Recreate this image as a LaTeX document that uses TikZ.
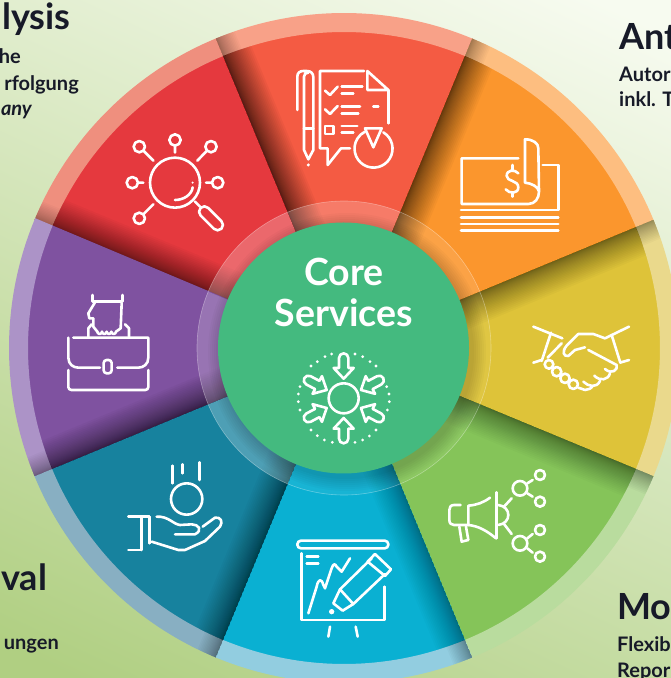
\documentclass[tikz,border=0pt]{standalone}
\usepackage{fontspec}
\setmainfont{Lato}
\definecolor{wRed}{HTML}{E5393E}\definecolor{rRed}{HTML}{EF8F7E}
\definecolor{wTop}{HTML}{F45B43}\definecolor{rTop}{HTML}{F8A188}
\definecolor{wOra}{HTML}{FB962D}\definecolor{rOra}{HTML}{FDBE80}
\definecolor{wYel}{HTML}{DEC339}\definecolor{rYel}{HTML}{EAD98C}
\definecolor{wGre}{HTML}{85C459}\definecolor{rGre}{HTML}{B9DC9E}
\definecolor{wBlu}{HTML}{0AB0D2}\definecolor{rBlu}{HTML}{92CDE0}
\definecolor{wTea}{HTML}{17829E}\definecolor{rTea}{HTML}{88AFC2}
\definecolor{wPur}{HTML}{7F52A0}\definecolor{rPur}{HTML}{AC93C7}
\definecolor{coreGreen}{HTML}{44BA7F}
\definecolor{ink}{HTML}{171A28}
\definecolor{bgTop}{HTML}{F7FBF0}
\definecolor{bgBot}{HTML}{B0CF82}
\def\sect#1#2#3#4{(#3:#1) arc[start angle=#3,end angle=#4,radius=#1] -- (#4:#2) arc[start angle=#4,end angle=#3,radius=#2] -- cycle}
\newcommand\corearrow[3]{\begin{scope}[shift={(#1,#2)},rotate=#3]
  \draw[icon] (0,0) -- (-32,-30) -- (-32,-14) -- (-62,-14) arc[start angle=-90,end angle=-270,radius=14] -- (-32,14) -- (-32,30) -- cycle;
\end{scope}}
\tikzset{
  icon/.style={draw=white,line width=2.6pt,line cap=round,line join=round},
  head/.style={anchor=base west,text=ink,font=\fontsize{36}{36}\selectfont\bfseries,inner sep=0},
  body/.style={anchor=base west,text=ink,font=\fontsize{20}{20}\selectfont\bfseries,inner sep=0},
  bodyr/.style={anchor=base east,text=ink,font=\fontsize{20}{20}\selectfont\bfseries,inner sep=0},
  corelabel/.style={text=white,font=\fontsize{37.5}{37.5}\selectfont\bfseries,inner sep=0,anchor=base},
}
\begin{document}
\begin{tikzpicture}[x=1pt,y=1pt]
\useasboundingbox (0,0) rectangle (671,678);
\clip (0,0) rectangle (671,678);
\shade[top color=bgTop,bottom color=bgBot,shading angle=-25] (-80,-80) rectangle (751,758);
\begin{scope}[shift={(0,678)},yscale=-1]
% ---------- wheel ----------
\begin{scope}[shift={(344,348)}]
\foreach \s/\wc/\rc/\iop/\sop in {-157.5/wRed/rRed/.24/.026,-112.5/wTop/rTop/.2/.034,-67.5/wOra/rOra/.12/.03,-22.5/wYel/rYel/.05/.024,22.5/wGre/rGre/.06/.02,67.5/wBlu/rBlu/.06/.015,112.5/wTea/rTea/.24/.024,157.5/wPur/rPur/.2/.026}{
  \pgfmathsetmacro\e{\s+45}
  \pgfmathsetmacro\ee{\s+45.3}
  \fill[\wc] (0,0) -- (\s:316.5) arc[start angle=\s,end angle=\ee,radius=316.5] -- cycle;
  \fill[\rc] \sect{316}{335}{\s}{\ee};
  \begin{scope}
    \clip (0,0) -- (\s:316) arc[start angle=\s,end angle=\e,radius=316] -- cycle;
    \begin{scope}[rotate=\s]
      \foreach \i in {1,...,28}{
        \pgfmathsetmacro\w{30*(\i/28)^1.8}
        \fill[black,opacity=\sop] (0,0) rectangle (345,\w);
      }
    \end{scope}
  \end{scope}
  \begin{scope}
    \clip \sect{316}{335}{\s}{\e};
    \begin{scope}[rotate=\s]
      \foreach \i in {1,...,18}{
        \pgfmathsetmacro\w{20*(\i/18)^1.5}
        \fill[black,opacity=.025] (0,0) rectangle (345,\w);
      }
    \end{scope}
  \end{scope}
  \fill[white,opacity=\iop] \sect{125}{147}{\s}{\e};
}
\draw[white,opacity=.35,line width=.6pt] (0,0) circle[radius=147];
\foreach \r in {127,129,...,139}{
  \fill[black,opacity=.022] (3,4) circle[radius=\r];
}
\end{scope}
\node[circle,fill=coreGreen,minimum size=251pt,inner sep=0] (core) at (343.5,348) {};
\node[corelabel] (coreA) at (344,285.5) {Core};
\node[corelabel] (coreB) at (344,327) {Services};
% ---------- core icon ----------
\begin{scope}[shift={(190,210)},scale=1/3]
  \draw[icon] (461,565) circle[radius=45];
  \corearrow{461}{506}{90}
  \corearrow{461}{624}{-90}
  \corearrow{410}{540}{28}
  \corearrow{513}{540}{152}
  \corearrow{410}{594}{-28}
  \corearrow{513}{594}{208}
  \foreach \x/\y in {405/440,425/432,495/432,518/440,540/455,558/468,590/530,597/552,598/575,592/600,558/660,538/678,518/690,495/697,427/697,403/690,382/677,363/660,330/600,325/575,325/552,330/530,363/468,382/455}{
    \fill[white] (\x,\y) circle[radius=4.6];
  }
\end{scope}
% ---------- magnifier ----------
\begin{scope}[shift={(0,0)},scale=1/3]
  \draw[icon] (525,548) circle[radius=75];
  \draw[icon] (525,600) .. controls (550,600) and (575,585) .. (578,562);
  \fill[white] (578,548) circle[radius=3.5];
  \draw[icon] (585,605) -- (600,620);
  \begin{scope}[shift={(633,655)},rotate=45]
    \draw[icon,rounded corners=5.2pt] (-44,-16) rectangle (44,16);
  \end{scope}
  \draw[icon] (525,420) circle[radius=17] (525,437) -- (525,458);
  \draw[icon] (418,440) circle[radius=17] (431,453) -- (460,482);
  \draw[icon] (633,440) circle[radius=17] (620,453) -- (592,482);
  \draw[icon] (397,548) circle[radius=17] (414,548) -- (430,548);
  \draw[icon] (653,548) circle[radius=17] (636,548) -- (618,548);
  \draw[icon] (418,655) circle[radius=17] (431,642) -- (460,613);
\end{scope}
% ---------- report ----------
\begin{scope}[shift={(285,60)},scale=1/3]
  \draw[icon] (37,150) -- (37,50) .. controls (37,38) and (45,33) .. (55,33) -- (65,33) .. controls (78,33) and (85,40) .. (85,52) -- (85,270) -- (70,298) -- (57,270) -- (57,50) .. controls (57,42) and (62,38) .. (70,38);
  \draw[icon] (57,205) -- (85,205);
  \fill[white] (70,315) circle[radius=5];
  \draw[icon] (237,33) -- (105,33) -- (105,265) -- (128,265) -- (128,315) -- (168,265) -- (195,265);
  \draw[icon] (247,33) -- (247,90) -- (310,90) -- cycle;
  \draw[icon] (310,90) -- (310,190);
  \draw[icon] (120,92) -- (135,105) -- (158,80);
  \draw[icon] (170,80) -- (232,80) (170,100) -- (205,100);
  \draw[icon] (120,148) -- (135,162) -- (158,138);
  \draw[icon] (170,140) -- (225,140) (265,140) -- (280,140) (170,160) -- (220,160);
  \draw[icon] (120,198) rectangle (146,222);
  \draw[icon] (170,198) -- (217,198) (170,218) -- (205,218);
  \draw[icon] (240,205) -- (290,205) -- (265,262) -- cycle;
  \draw[icon] (295,217) arc[start angle=-59,end angle=243,radius=57];
\end{scope}
% ---------- banknotes ----------
\begin{scope}[shift={(450,130)},scale=1/3]
  \draw[icon] (205,85) -- (35,85) -- (35,222) -- (235,222) .. controls (255,222) and (267,205) .. (267,185) -- (265,55) .. controls (265,40) and (250,28) .. (225,28) -- (225,158) .. controls (245,160) and (265,170) .. (267,185);
  \draw[icon] (278,105) -- (325,105) -- (325,240) -- (33,240);
  \draw[icon] (33,262) -- (325,262) (33,282) -- (325,282) (33,302) -- (325,302);
  \draw[icon] (205,130) .. controls (195,118) and (170,118) .. (170,138) .. controls (170,155) and (205,150) .. (205,172) .. controls (205,192) and (178,192) .. (167,178);
  \draw[icon] (187,105) -- (187,120) (187,188) -- (187,200);
\end{scope}
% ---------- handshake ----------
\begin{scope}[shift={(525,315)},scale=1/3]
  \draw[icon] (25,35) -- (112,70) (78,53) -- (50,138) (25,143) -- (50,135);
  \draw[icon] (312,35) -- (240,70) (260,60) -- (285,140) (312,135) -- (285,143);
  \draw[icon] (240,70) -- (205,57) -- (160,57) -- (125,92) .. controls (110,110) and (115,125) .. (130,123) -- (150,105) -- (180,97);
  \draw[icon] (190,105) -- (275,150) .. controls (280,165) and (260,180) .. (240,162);
  \draw[icon] (255,175) .. controls (250,195) and (225,200) .. (208,182);
  \draw[icon] (225,198) .. controls (215,220) and (190,215) .. (175,200);
  \draw[icon] (72,148) circle[radius=13] (95,170) circle[radius=14] (120,190) circle[radius=14] (145,208) circle[radius=14];
  \draw[icon] (110,85) -- (68,128);
  \draw[icon] (160,218) -- (180,225) .. controls (190,225) and (200,220) .. (203,212);
\end{scope}
% ---------- megaphone ----------
\begin{scope}[shift={(440,460)},scale=1/3]
  \draw[icon] (62,135) -- (42,135) .. controls (32,135) and (28,142) .. (28,150) -- (28,180) .. controls (28,190) and (34,195) .. (42,195) -- (85,195);
  \draw[icon] (150,113) .. controls (130,128) and (110,135) .. (85,137) -- (85,195) .. controls (115,198) and (140,212) .. (168,235);
  \draw[icon] (170,97) -- (170,235);
  \draw[icon] (175,135) .. controls (215,140) and (215,190) .. (175,195);
  \draw[icon] (58,200) -- (65,245) -- (85,240) -- (78,200);
  \draw[icon] (192,140) -- (215,115) (192,192) -- (215,222);
  \draw[icon] (240,85) circle[radius=22] (240,250) circle[radius=22];
  \draw[icon] (300,45) circle[radius=15] (300,125) circle[radius=15] (300,210) circle[radius=15] (300,290) circle[radius=15];
  \draw[icon] (262,70) -- (278,60) (262,100) -- (278,110) (262,235) -- (278,222) (262,265) -- (278,278);
\end{scope}
% ---------- presentation ----------
\begin{scope}[shift={(290,530)},scale=1/3]
  \draw[icon,rounded corners=3.6pt] (22,32) rectangle (295,55);
  \draw[icon] (35,70) -- (35,270) -- (283,270) -- (283,170);
  \draw[icon] (50,80) -- (85,80) (50,100) -- (85,100);
  \draw[icon] (55,250) -- (80,170) .. controls (85,145) and (95,145) .. (100,165) -- (105,175) -- (125,115) .. controls (130,100) and (135,100) .. (140,110) -- (155,125) -- (180,85);
  \draw[icon] (150,178) -- (245,85) (285,132) -- (190,222) -- (150,178);
  \draw[icon] (233,95) -- (255,72) -- (303,118) -- (285,138) -- cycle;
  \draw[icon] (150,178) -- (130,220) -- (158,242) -- (190,222);
  \fill[white] (125,245) circle[radius=8];
  \draw[icon] (120,290) -- (115,320) (197,290) -- (203,320);
\end{scope}
% ---------- hand with coin ----------
\begin{scope}[shift={(120,455)},scale=1/3]
  \draw[icon] (158,32) -- (158,85) (188,28) -- (188,55) (238,22) -- (238,75);
  \draw[icon] (200,132) circle[radius=47];
  \draw[icon] (25,185) -- (88,185) (65,185) -- (65,285) (25,285) -- (65,285) (88,185) -- (88,265);
  \draw[icon] (110,185) .. controls (145,183) and (160,208) .. (180,210) -- (215,208) .. controls (235,208) and (250,225) .. (225,238) -- (165,238);
  \draw[icon] (248,215) -- (285,188) .. controls (302,185) and (310,200) .. (300,215) -- (255,258) -- (195,285) -- (175,285) -- (95,260);
\end{scope}
% ---------- briefcase ----------
\begin{scope}[shift={(60,285)},scale=1/3]
  \draw[icon] (97,30) -- (97,50) -- (188,50) -- (188,30);
  \draw[icon] (105,52) -- (85,85) -- (88,100) -- (100,100) -- (100,125) -- (112,140);
  \draw[icon] (112,140) arc[start angle=180,end angle=0,radius=7] (126,140) arc[start angle=180,end angle=0,radius=7] (140,140) arc[start angle=180,end angle=0,radius=7] (154,140) arc[start angle=180,end angle=0,radius=7] -- (182,130) -- (185,55);
  \draw[icon] (85,155) -- (85,130) -- (95,118);
  \draw[icon] (195,118) -- (207,130) -- (207,155);
  \draw[icon] (40,158) -- (265,158) -- (265,218) .. controls (265,238) and (250,248) .. (235,248) -- (172,248);
  \draw[icon] (25,158) -- (25,218) .. controls (25,238) and (40,248) .. (55,248) -- (120,248);
  \draw[icon,rounded corners=3pt] (131,225) rectangle (155,265);
  \draw[icon,rounded corners=3pt] (25,255) -- (25,315) -- (265,315) -- (265,255);
\end{scope}
% ---------- cropped texts ----------
\node[head] (t1) at (2,30) {lysis};
\node[bodyr] (t2) at (21,63.5) {he};
\node[bodyr] (t3) at (79,90.5) {rfolgung};
\node[bodyr] (t4) at (32,115.5) {\itshape any};
\node[head] (t5) at (1,591) {val};
\node[bodyr] (t6) at (59,650) {ungen};
\node[head] (t7) at (619,50) {Ant};
\node[body] (t8) at (619,81.5) {Autor};
\node[body] (t9) at (619,107) {inkl. T};
\node[head] (t10) at (617,620) {Mor};
\node[body] (t11) at (617,652) {Flexib};
\node[body] (t12) at (617,677) {Repor};
\end{scope}
\end{tikzpicture}
\end{document}
